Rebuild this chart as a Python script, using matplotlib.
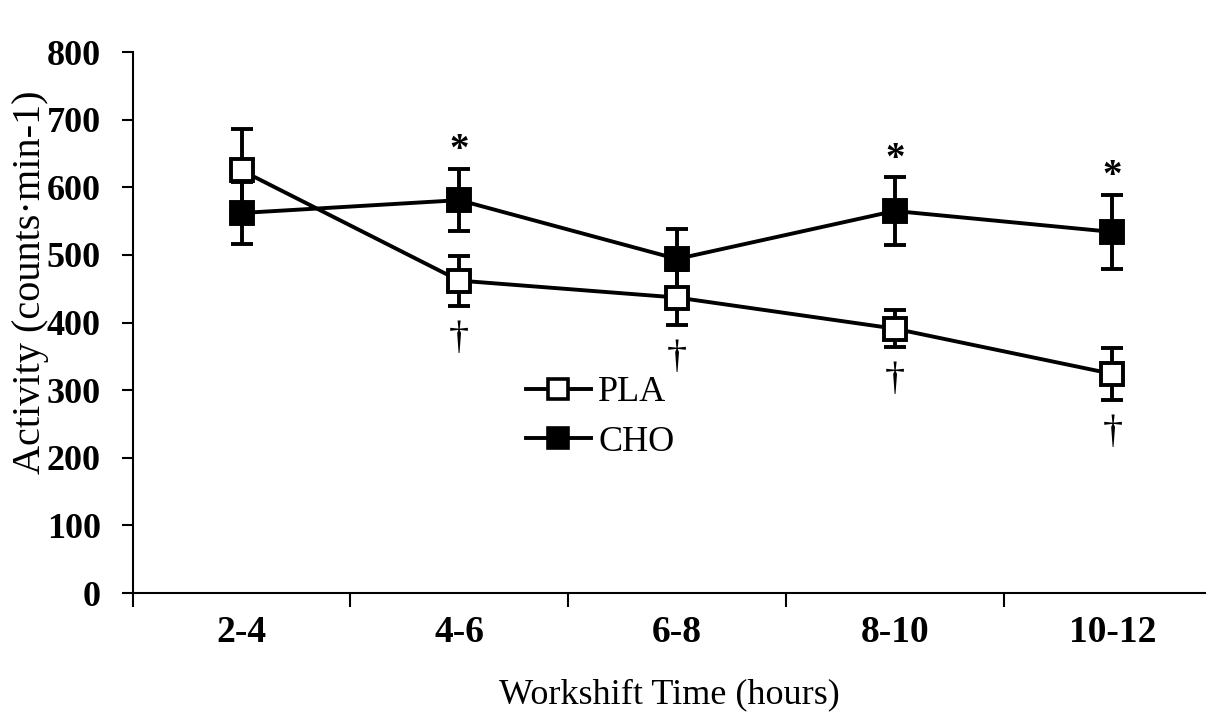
import numpy as np
import matplotlib.pyplot as plt
from matplotlib.lines import Line2D

categories = ["2-4", "4-6", "6-8", "8-10", "10-12"]
pla_mean = [625, 462, 437, 391, 324]
pla_err = [61, 37, 41, 27, 38]
cho_mean = [562, 581, 494, 565, 534]
cho_err = [46, 46, 45, 50, 55]
star_idx = [1, 3, 4]      # CHO points marked with *
dagger_idx = [1, 2, 3, 4]  # PLA points marked with dagger

plt.rcParams["font.family"] = ["Liberation Serif", "DejaVu Serif"]

fig = plt.figure(figsize=(12.06, 7.15), dpi=100)
ax = fig.add_axes([0.110, 0.1706, 0.890, 0.7566])

x = np.arange(len(categories))
common = dict(color="black", lw=2.8, capsize=8, capthick=3, elinewidth=2.8,
              markersize=16, markeredgewidth=2.8, markeredgecolor="black")
ax.errorbar(x, cho_mean, yerr=cho_err, marker="s", markerfacecolor="black",
            zorder=3, **common)
ax.errorbar(x, pla_mean, yerr=pla_err, marker="s", markerfacecolor="white",
            zorder=4, **common)

for i in star_idx:
    ax.annotate("*", (x[i], cho_mean[i] + cho_err[i]), xytext=(0, 13),
                textcoords="offset points", ha="center", va="center",
                fontsize=28, fontweight="bold")
for i in dagger_idx:
    ax.annotate("\u2020", (x[i], pla_mean[i] - pla_err[i]), xytext=(0, -10),
                textcoords="offset points", ha="center", va="top",
                fontsize=29)

ax.set_ylim(0, 800)
ax.set_xlim(-0.5, 4.43)
ax.set_yticks(range(0, 801, 100))
ax.tick_params(axis="y", direction="out", length=8, width=1.5, labelsize=26, pad=15)
for lab in ax.get_yticklabels():
    lab.set_fontweight("bold")

ax.set_xticks(np.arange(-0.5, 4.0, 1.0))
ax.set_xticklabels([])
ax.tick_params(axis="x", which="major", direction="out", length=10, width=1.5)
ax.set_xticks(x, minor=True)
ax.set_xticklabels(categories, minor=True, fontsize=27, fontweight="bold")
ax.tick_params(axis="x", which="minor", length=0, pad=16)

ax.spines["top"].set_visible(False)
ax.spines["right"].set_visible(False)
ax.spines["left"].set_linewidth(1.5)
ax.spines["bottom"].set_linewidth(1.5)

ax.set_xlabel("Workshift Time (hours)", fontsize=26, labelpad=20)
ax.set_ylabel("Activity (counts\u00b7min-1)", fontsize=29)
ax.yaxis.set_label_coords(-0.078, 0.575)

handles = [
    Line2D([], [], color="black", lw=2.8, marker="s", markersize=15,
           markeredgewidth=2.6, markerfacecolor="white", markeredgecolor="black"),
    Line2D([], [], color="black", lw=2.8, marker="s", markersize=15,
           markeredgewidth=2.6, markerfacecolor="black", markeredgecolor="black"),
]
ax.legend(handles, ["PLA", "CHO"], loc="upper left",
          bbox_to_anchor=(0.353, 0.428), frameon=False, fontsize=26,
          handlelength=1.8, handletextpad=0.2, labelspacing=0.45,
          borderaxespad=0)

fig.savefig("out.png", dpi=100)
